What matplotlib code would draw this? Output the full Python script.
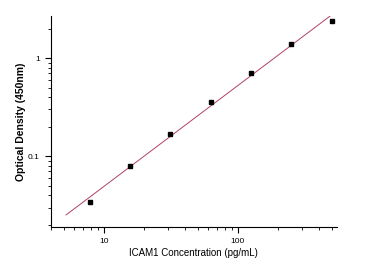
import numpy as np
import matplotlib
matplotlib.use('Agg')
import matplotlib.pyplot as plt
from matplotlib.ticker import FixedLocator, FixedFormatter, LogLocator, NullFormatter

# Data
conc = [7.81, 15.63, 31.25, 62.5, 125, 250, 500]
od = [0.034, 0.079, 0.169, 0.356, 0.708, 1.39, 2.40]
fit_range = [5.2, 500]
x_ticks = [10, 100]
x_tick_labels = ['10', '100']
y_ticks = [0.1, 1]
y_tick_labels = ['0.1', '1']

plt.rcParams['font.family'] = ['Liberation Sans', 'DejaVu Sans']

fig = plt.figure(figsize=(3.91, 2.64), dpi=100, facecolor='white')
ax = fig.add_axes([0.130, 0.140, 0.732, 0.799])

# straight-line fit in log-log space
k, b = np.polyfit(np.log10(conc), np.log10(od), 1)
fx = np.logspace(np.log10(fit_range[0]), np.log10(fit_range[1]), 50)
fy = 10 ** (k * np.log10(fx) + b)
ax.plot(fx, fy, color='#b0406a', linewidth=0.7)
ax.plot(conc, od, linestyle='none', marker='s', markersize=3.5, color='black')

ax.set_xscale('log')
ax.set_yscale('log')
ax.set_xlim(4, 550)
ax.set_ylim(0.019, 2.68)

ax.xaxis.set_major_locator(FixedLocator(x_ticks))
ax.xaxis.set_major_formatter(FixedFormatter(x_tick_labels))
ax.yaxis.set_major_locator(FixedLocator(y_ticks))
ax.yaxis.set_major_formatter(FixedFormatter(y_tick_labels))
ax.xaxis.set_minor_locator(LogLocator(base=10, subs=np.arange(2, 10)))
ax.yaxis.set_minor_locator(LogLocator(base=10, subs=np.arange(2, 10)))
ax.xaxis.set_minor_formatter(NullFormatter())
ax.yaxis.set_minor_formatter(NullFormatter())

ax.tick_params(which='major', direction='out', length=4, width=0.8, labelsize=6, pad=4)
ax.tick_params(which='minor', direction='out', length=2.5, width=0.6)

ax.spines['top'].set_visible(False)
ax.spines['right'].set_visible(False)
ax.spines['left'].set_linewidth(0.8)
ax.spines['bottom'].set_linewidth(0.8)

ax.set_xlabel('ICAM1 Concentration (pg/mL)', fontsize=7, labelpad=2)
ax.set_ylabel('Optical Density (450nm)', fontsize=7.5, fontweight='bold', labelpad=1)

fig.savefig('out.png', dpi=100, facecolor='white')
plt.close()
